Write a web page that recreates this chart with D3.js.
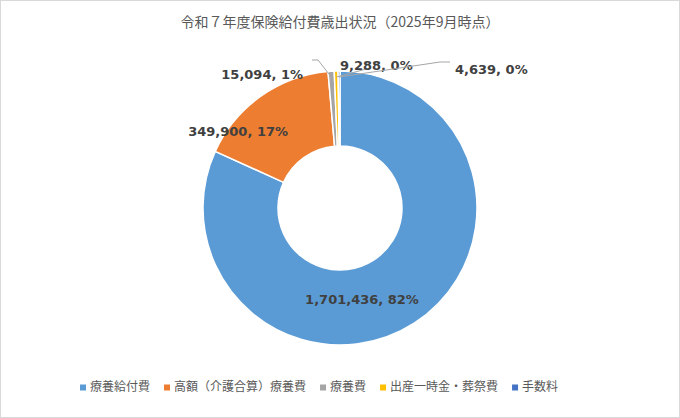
<!DOCTYPE html>
<html><head><meta charset="utf-8">
<script src="https://cdn.jsdelivr.net/npm/d3@7"></script>
<style>body{margin:0;background:#fff}</style></head>
<body><svg id="c" width="680" height="418"></svg>
<script>
const categories = ["療養給付費","高額（介護合算）療養費","療養費","出産一時金・葬祭費","手数料"];
const values = [1701436, 349900, 15094, 9288, 4639];
const colors = ["#5b9bd5","#ed7d31","#a5a5a5","#ffc000","#4472c4"];
const svg = d3.select("#c");
const F = "Verdana, 'DejaVu Sans', 'Noto Sans CJK JP', sans-serif";
svg.append("rect").attr("x",0.5).attr("y",0.5).attr("width",679).attr("height",417).attr("fill","#fff").attr("stroke","#d9d9d9");
svg.append("text").attr("x",340).attr("y",27).attr("text-anchor","middle").attr("font-family","'Noto Sans CJK JP', sans-serif").attr("font-size",14).attr("fill","#595959").text("令和７年度保険給付費歳出状況（2025年9月時点）");
const cx=340, cy=208, R=137, r=62;
const total = d3.sum(values);
const pie = d3.pie().sort(null).value(d=>d)(values);
const arc = d3.arc().innerRadius(r).outerRadius(R);
const g = svg.append("g").attr("transform",`translate(${cx},${cy})`);
g.selectAll("path").data(pie).join("path").attr("d",arc).attr("fill",(d,i)=>colors[i]).attr("stroke","#fff").attr("stroke-width",1.5);
const fmt = d3.format(",");
const lab = pie.map((d,i)=>`${fmt(values[i])}, ${Math.round(values[i]/total*100)}%`);
// label placements (anchor point relative to center)
const pos = [[22,92,"middle"],[-52,-76,"end"],[-37,-133,"end"],[0,-142,"start"],[115,-138,"start"]];
const lines = [null,null,[[-28,-146],[-20,-146]],[[ -8,-140],[ -30+20,-146]],[[110,-142],[100,-142]]];
pie.forEach((d,i)=>{
  const a=(d.startAngle+d.endAngle)/2;
  const px=Math.sin(a)*(R-6), py=-Math.cos(a)*(R-6);
  if(i>=2){
    let pts;
    if(i===2) pts=[[-28,-148],[-22,-148],[px,py]];
    if(i===3) pts=[[30,-140],[px,py]];
    if(i===4) pts=[[110,-146],[100,-146],[px,py]];
    g.append("path").attr("d",d3.line()(pts)).attr("fill","none").attr("stroke","#a6a6a6").attr("stroke-width",1);
  }
  g.append("text").attr("x",pos[i][0]).attr("y",pos[i][1]).attr("text-anchor",pos[i][2]).attr("dominant-baseline","middle")
   .attr("font-family",F).attr("font-weight","bold").attr("font-size",13).attr("fill","#404040").text(lab[i]);
});
// legend
const lg = svg.append("g");
let x=80; const ly=388;
categories.forEach((c,i)=>{
  lg.append("rect").attr("x",x).attr("y",ly-3.5).attr("width",6).attr("height",6).attr("fill",colors[i]);
  const t=lg.append("text").attr("x",x+10).attr("y",ly).attr("dominant-baseline","middle").attr("font-family","'Noto Sans CJK JP', sans-serif").attr("font-size",12).attr("fill","#595959").text(c);
  x += 10 + t.node().getComputedTextLength() + 14;
});
</script></body></html>
